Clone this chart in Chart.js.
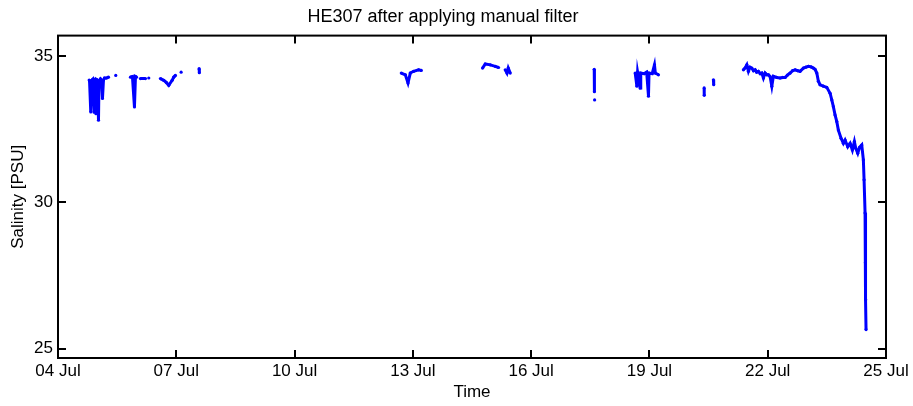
<!DOCTYPE html>
<html>
<head>
<meta charset="utf-8">
<title>HE307 salinity</title>
<script src="https://cdn.jsdelivr.net/npm/chart.js@4.4.1/dist/chart.umd.min.js"></script>
<style>
  html, body { margin: 0; padding: 0; background: #fff; }
  #wrap { width: 913px; height: 406px; }
</style>
</head>
<body>
<div id="wrap"><canvas id="grafico" width="913" height="406"></canvas></div>
<script>
// dias desde 04 Jul 00:00 (null = hueco en la serie)
const days = [
  0.791, 0.800, 0.831, 0.840, 0.875, 0.918, 0.930, 0.950, 0.963, 0.976, 1.000, 1.027, 1.040, 1.077, 1.103, 1.128, 1.153, 1.179, 1.229, 1.280, null,
  1.465, null,
  1.838, 1.888, 1.939, 1.965, 1.990, null,
  2.091, 2.218, null,
  2.302, null,
  2.598, 2.682, 2.745, 2.809, 2.895, 2.935, 2.978, null,
  3.123, null,
  3.579, 3.585, null,
  8.707, 8.809, 8.877, 8.935, 9.019, 9.146, 9.214, null,
  10.768, 10.837, 10.963, 11.090, 11.174, null,
  11.343, 11.387, 11.419, 11.470, null,
  13.600, 13.605, null,
  13.610, null,
  14.639, 14.682, 14.700, 14.766, 14.780, 14.867, 14.930, 14.976, 14.990, 15.070, 15.128, 15.150, 15.229, null,
  16.388, 16.390, null,
  16.623, 16.630, null,
  17.384, 17.430, 17.471, 17.511, 17.550, 17.597, 17.640, 17.681, 17.720, 17.764, 17.810, 17.850, 17.891, 17.934, 17.980,
  18.018, 18.060, 18.104, 18.144, 18.230, 18.314, 18.380, 18.441, 18.500, 18.568, 18.630, 18.695, 18.760, 18.821, 18.905,
  18.970, 19.032, 19.100, 19.158, 19.200, 19.245, 19.285, 19.328, 19.412, 19.498, 19.582, 19.625, 19.665, 19.708, 19.752,
  19.792, 19.860, 19.919, 19.962, 20.030, 20.089, 20.147, 20.198, 20.233, 20.284, 20.330, 20.385, 20.426, 20.444, 20.469,
  20.477, 20.485, 20.494
];
const salinity = [
  34.18, 34.15, 33.09, 34.15, 34.20, 33.09, 34.18, 34.15, 33.03, 34.20, 34.18, 32.81, 34.15, 34.22, 34.18, 33.55, 34.18, 34.25, 34.25, 34.28, null,
  34.34, null,
  34.28, 34.30, 33.26, 34.30, 34.28, null,
  34.23, 34.23, null,
  34.25, null,
  34.23, 34.17, 34.10, 34.00, 34.17, 34.28, 34.34, null,
  34.45, null,
  34.57, 34.43, null,
  34.42, 34.36, 34.08, 34.42, 34.48, 34.53, 34.51, null,
  34.59, 34.73, 34.70, 34.65, 34.61, null,
  34.53, 34.42, 34.59, 34.42, null,
  34.55, 33.78, null,
  33.50, null,
  34.42, 33.97, 34.45, 33.91, 34.42, 34.40, 34.45, 33.63, 34.42, 34.40, 34.70, 34.42, 34.36, null,
  33.91, 33.66, null,
  34.19, 34.02, null,
  34.53, 34.60, 34.70, 34.48, 34.62, 34.59, 34.50, 34.53, 34.45, 34.48, 34.40, 34.42, 34.25, 34.42, 34.36,
  34.36, 34.30, 33.97, 34.31, 34.27, 34.25, 34.27, 34.27, 34.35, 34.42, 34.50, 34.53, 34.50, 34.48, 34.59,
  34.62, 34.65, 34.63, 34.59, 34.55, 34.42, 34.14, 34.02, 33.97, 33.93, 33.73, 33.50, 33.27, 32.99, 32.76,
  32.47, 32.19, 32.02, 32.13, 31.90, 32.02, 31.79, 32.08, 31.85, 31.68, 31.88, 31.96, 31.45, 30.77, 29.64,
  27.94, 26.67, 25.65
];

const tickDays = [0, 3, 6, 9, 12, 15, 18, 21];
const tickLabels = ['04 Jul', '07 Jul', '10 Jul', '13 Jul', '16 Jul', '19 Jul', '22 Jul', '25 Jul'];
const salTicks = [25, 30, 35];

// puntos {x,y}; el hueco va con y = null
const puntos = days.map((d, i) => ({ x: d === null ? (days[i - 1] + 0.001) : d, y: salinity[i] }));

const fuente = "'Liberation Sans', Arial, Helvetica, sans-serif";

// marco y marcas hacia dentro, estilo MATLAB
const marcoMatlab = {
  id: 'marcoMatlab',
  afterDraw(chart) {
    const { ctx, chartArea: a, scales } = chart;
    const largo = 8;
    ctx.save();
    ctx.strokeStyle = '#000';
    ctx.lineWidth = 2;
    ctx.beginPath();
    tickDays.forEach(d => {
      const px = Math.round(scales.x.getPixelForValue(d));
      ctx.moveTo(px, a.bottom); ctx.lineTo(px, a.bottom - largo);
      ctx.moveTo(px, a.top); ctx.lineTo(px, a.top + largo);
    });
    salTicks.forEach(v => {
      const py = Math.round(scales.y.getPixelForValue(v));
      ctx.moveTo(a.left, py); ctx.lineTo(a.left + largo, py);
      ctx.moveTo(a.right, py); ctx.lineTo(a.right - largo, py);
    });
    ctx.stroke();
    ctx.strokeRect(a.left, a.top, a.right - a.left, a.bottom - a.top);
    ctx.restore();
  }
};

const ctx = document.getElementById('grafico').getContext('2d');

new Chart(ctx, {
  type: 'line',
  data: {
    datasets: [{
      label: 'Salinity',
      data: puntos,
      borderColor: '#0000ff',
      backgroundColor: '#0000ff',
      borderWidth: 3,
      pointRadius: 1.6,
      pointBorderWidth: 0,
      pointHoverRadius: 0,
      spanGaps: false,
      fill: false,
      tension: 0
    }]
  },
  options: {
    responsive: false,
    animation: false,
    events: [],
    layout: { padding: { left: 0, right: 27, top: 0, bottom: 0 } },
    plugins: {
      legend: { display: false },
      tooltip: { enabled: false },
      title: {
        display: true,
        text: 'HE307 after applying manual filter',
        color: '#000',
        font: { family: fuente, size: 18, weight: 'normal' },
        padding: { top: 6, bottom: 8 }
      }
    },
    scales: {
      x: {
        type: 'linear',
        min: 0,
        max: 21,
        grid: { display: false, drawTicks: false, tickLength: 0 },
        border: { display: false },
        afterBuildTicks: scale => { scale.ticks = tickDays.map(v => ({ value: v })); },
        afterFit: scale => { scale.height = 48; },
        ticks: {
          color: '#000',
          padding: 3,
          maxRotation: 0,
          font: { family: fuente, size: 17 },
          callback: value => tickLabels[tickDays.indexOf(value)]
        },
        title: {
          display: true,
          text: 'Time',
          color: '#000',
          font: { family: fuente, size: 17 },
          padding: { top: 0, bottom: 3 }
        }
      },
      y: {
        min: 24.68,
        max: 35.7,
        grid: { display: false, drawTicks: false, tickLength: 0 },
        border: { display: false },
        afterBuildTicks: scale => { scale.ticks = salTicks.map(v => ({ value: v })); },
        afterFit: scale => { scale.width = 58; },
        ticks: {
          color: '#000',
          padding: 5,
          font: { family: fuente, size: 17 }
        },
        title: {
          display: true,
          text: 'Salinity [PSU]',
          color: '#000',
          font: { family: fuente, size: 17 },
          padding: { top: 8, bottom: 0 }
        }
      }
    }
  },
  plugins: [marcoMatlab]
});
</script>
</body>
</html>
